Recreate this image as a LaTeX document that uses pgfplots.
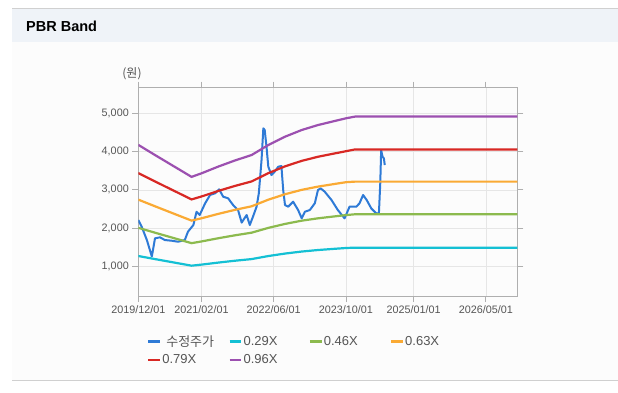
\documentclass[border=0pt]{standalone}
\usepackage{pgfplots}
\pgfplotsset{compat=1.18}
\usepackage{fontspec}
\setmainfont{Liberation Sans}
\newfontfamily\kr{Noto Sans CJK KR}
\definecolor{cblue}{RGB}{46,122,214}
\definecolor{ccyan}{RGB}{20,192,212}
\definecolor{cgreen}{RGB}{140,186,78}
\definecolor{corange}{RGB}{250,170,52}
\definecolor{cred}{RGB}{216,40,36}
\definecolor{cpurple}{RGB}{156,80,176}
\definecolor{headbg}{RGB}{239,243,248}
\definecolor{bodybg}{RGB}{252,252,252}
\definecolor{linegray}{RGB}{208,208,208}
\definecolor{tickgray}{RGB}{85,85,85}
\definecolor{gridgray}{RGB}{230,230,230}
\definecolor{axgray}{RGB}{175,175,175}
\begin{document}
\begin{tikzpicture}[x=1pt,y=1pt]
\useasboundingbox (0,0) rectangle (618,-392);
\fill[white] (0,0) rectangle (618,-392);
\fill[bodybg] (12,-42) rectangle (618,-380);
\fill[headbg] (12,-8) rectangle (618,-42);
\draw[linegray,line width=1pt] (12,-8.5) -- (618,-8.5);
\draw[linegray,line width=1pt] (12,-380.5) -- (618,-380.5);
\node[anchor=west,inner sep=0pt,font=\bfseries\fontsize{14.5}{16}\selectfont] at (26,-26) {PBR Band};
\node[font=\kr\fontsize{12}{14}\selectfont,text=tickgray] at (132,-74) {(원)};
\begin{axis}[
  at={(138.3pt,-296pt)}, anchor=south west,
  scale only axis, width=379.2pt, height=208.3pt,
  xmin=0, xmax=84, ymin=213, ymax=5680,
  xtick={0,14,30,46,61,77},
  xticklabels={2019/12/01,2021/02/01,2022/06/01,2023/10/01,2025/01/01,2026/05/01},
  ytick={1000,2000,3000,4000,5000},
  /pgf/number format/1000 sep={,},
  /pgf/number format/assume math mode=true,
  ticklabel style={font=\fontsize{10.8}{12}\selectfont,text=tickgray},
  tick align=outside, major tick length=6pt,
  tick style={axgray,line width=0.8pt},
  axis line style={axgray,line width=0.9pt},
  grid=major, grid style={gridgray,line width=0.6pt},
  legend columns=4,
  legend style={at={(rel axis cs:0.0224,-0.1876)},anchor=north west,
    draw=none,fill=none,inner sep=0pt,row sep=7.3pt,column sep=0pt,
    nodes={inner sep=0pt,anchor=west},
    font=\fontsize{13}{15}\selectfont,text=tickgray},
  legend cell align=left,
  legend image code/.code={\draw[line width=2.6pt,#1] (0pt,0pt) -- (11.7pt,0pt);},
]
\addplot[cblue,line width=2pt,line join=round] coordinates {
(0,2207)(0.75,2031)(1.9,1682)(3.0,1250)(3.7,1727)(4.8,1753)(5.9,1682)(7.4,1664)
(8.8,1638)(10.3,1682)(11.0,1900)(12.2,2076)(12.9,2425)(13.6,2339)(14.8,2646)
(15.9,2864)(17.0,2908)(17.9,3013)(18.8,2820)(19.9,2777)(21.0,2601)(22.1,2470)
(22.9,2140)(24.0,2339)(24.7,2076)(25.4,2294)(26.2,2557)(26.7,2908)(27.3,3782)
(27.7,4614)(28.0,4570)(28.4,4131)(28.8,3606)(29.5,3388)(30.2,3475)(31.0,3606)
(31.7,3624)(32.1,2995)(32.5,2601)(33.2,2557)(34.3,2688)(35.4,2470)(36.2,2252)
(36.9,2425)(38.0,2470)(39.1,2646)(39.8,2995)(40.4,3039)(41.3,2950)(42.8,2732)
(44.2,2470)(45.4,2294)(45.7,2252)(46.8,2557)(48.3,2557)(49.0,2646)(49.8,2864)
(50.6,2732)(51.6,2514)(52.7,2383)(53.3,2383)(53.6,3170)(53.8,4045)(54.1,3870)
(54.4,3826)(54.6,3650)};
\addlegendentry{\makebox[67pt][l]{\hspace{5pt}\kr 수정주가}}
\addplot[ccyan,line width=2.2pt] coordinates {
(0,1263)(3.7,1182)(7.4,1103)(11.8,1009)(14,1037)(17.7,1090)(21.4,1139)(25.1,1182)
(28.8,1262)(32.5,1327)(36.2,1380)(39.8,1420)(43.5,1452)(46,1473)(48,1482)(84,1482)};
\addlegendentry{\makebox[66pt][l]{\hspace{1pt}0.29X}}
\addplot[cgreen,line width=2.2pt] coordinates {
(0,2003)(3.7,1875)(7.4,1749)(11.8,1600)(14,1645)(17.7,1729)(21.4,1806)(25.1,1875)
(28.8,2001)(32.5,2105)(36.2,2190)(39.8,2252)(43.5,2303)(46,2337)(48,2358)(84,2358)};
\addlegendentry{\makebox[67pt][l]{\hspace{1pt}0.46X}}
\addplot[corange,line width=2.2pt] coordinates {
(0,2743)(3.7,2568)(7.4,2396)(11.8,2192)(14,2253)(17.7,2368)(21.4,2474)(25.1,2568)
(28.8,2741)(32.5,2884)(36.2,2999)(39.8,3084)(43.5,3154)(46,3200)(48,3215)(84,3215)};
\addlegendentry{\makebox[50pt][l]{\hspace{1pt}0.63X}}
\addplot[cred,line width=2.2pt] coordinates {
(0,3440)(3.7,3220)(7.4,3004)(11.8,2748)(14,2825)(17.7,2970)(21.4,3102)(25.1,3220)
(28.8,3437)(32.5,3616)(36.2,3760)(39.8,3868)(43.5,3955)(46,4013)(48,4060)(84,4060)};
\addlegendentry{\makebox[67pt][l]{\hspace{1pt}0.79X}}
\addplot[cpurple,line width=2.2pt] coordinates {
(0,4180)(3.7,3913)(7.4,3651)(11.8,3340)(14,3433)(17.7,3609)(21.4,3770)(25.1,3913)
(28.8,4176)(32.5,4394)(36.2,4570)(39.8,4700)(43.5,4806)(46,4877)(48,4922)(84,4922)};
\addlegendentry{\makebox[66pt][l]{\hspace{1pt}0.96X}}
\end{axis}
\end{tikzpicture}
\end{document}
